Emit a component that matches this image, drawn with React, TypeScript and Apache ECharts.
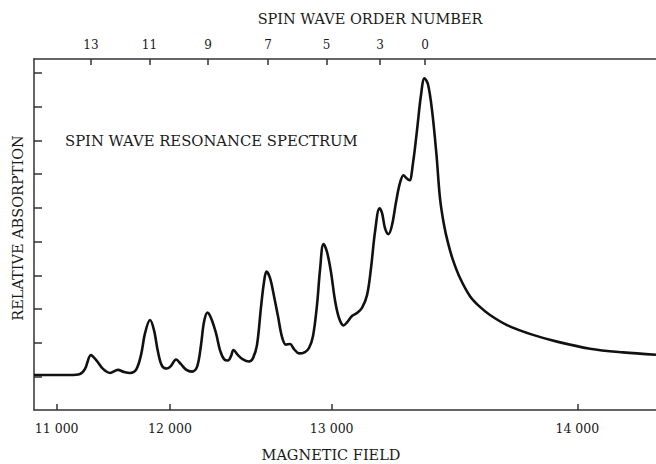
import React, { useEffect, useRef } from "react";
import * as echarts from "echarts";

// Position along the (non-uniform) field scale, in % of the plot width
const scalePos = [
  0, 2.57, 5.79, 7.4, 8.2, 9.16, 10.13, 11.09, 12.22, 13.5, 14.47, 15.43, 16.4, 17.2, 17.85, 18.65,
  19.29, 19.94, 20.58, 21.38, 22.03, 22.83, 23.63, 24.44, 25.4, 26.21, 26.85, 27.33, 27.89, 28.46,
  29.26, 29.9, 30.55, 31.19, 31.67, 32.07, 32.8, 33.6, 34.57, 35.21, 35.85, 36.5, 36.98, 37.38,
  37.94, 38.59, 39.23, 39.87, 40.51, 41.16, 41.8, 42.6, 43.57, 44.21, 44.86, 45.5, 45.98, 46.54,
  47.11, 47.75, 48.39, 49.04, 49.76, 50.32, 51.13, 51.93, 52.73, 53.54, 54.18, 54.82, 55.55, 55.95,
  56.43, 56.99, 57.56, 58.2, 58.84, 59.41, 59.89, 60.37, 60.93, 61.58, 62.22, 62.78, 63.34, 63.99,
  64.71, 65.27, 65.92, 66.56, 67.36, 68.49, 70.1, 71.7, 73.31, 76.05, 80.23, 84.08, 89.39, 94.69, 100,
];
const absorption = [
  1.04, 1.04, 1.04, 1.07, 1.22, 1.63, 1.45, 1.22, 1.1, 1.19, 1.13, 1.1, 1.19, 1.63, 2.28, 2.67,
  2.37, 1.72, 1.31, 1.23, 1.31, 1.5, 1.36, 1.2, 1.14, 1.28, 1.93, 2.61, 2.89, 2.73,
  2.28, 1.78, 1.51, 1.47, 1.6, 1.78, 1.63, 1.5, 1.44, 1.54, 1.93, 3.06, 3.8, 4.11,
  3.92, 3.38, 2.78, 2.17, 1.94, 1.96, 1.81, 1.68, 1.72, 1.84, 2.2, 3.12, 4.15, 4.93,
  4.69, 4.09, 3.26, 2.73, 2.51, 2.6, 2.79, 2.88, 3.03, 3.41, 4.21, 5.28, 5.99, 5.85,
  5.4, 5.22, 5.49, 6.17, 6.74, 6.97, 6.88, 6.82, 7.33, 8.31, 9.35, 9.85, 9.67, 8.9,
  7.57, 6.29, 5.49, 4.96, 4.45, 3.92, 3.38, 3.06, 2.82, 2.52, 2.23, 2.03, 1.82, 1.71, 1.64,
];

const fieldLabels = ["11 000", "12 000", "13 000", "14 000"];
const fieldTickPos = [3.65, 21.86, 47.86, 87.35];
const orderLabels = ["13", "11", "9", "7", "5", "3", "0"];
const orderTickPos = [9.16, 18.57, 27.97, 37.62, 47.03, 55.63, 62.86];
const absorptionTicks = [1, 2, 3, 4, 5, 6, 7, 8, 9, 10];

const SERIF = "DejaVu Serif";
const INK = "#1a1a1a";

function labelFor(values: number[], labels: string[]) {
  return (v: number) => {
    const i = values.findIndex((p) => Math.abs(p - v) < 1e-6);
    return i >= 0 ? labels[i] : "";
  };
}

export default function App() {
  const ref = useRef<HTMLDivElement>(null);
  useEffect(() => {
    if (!ref.current) return;
    const chart = echarts.init(ref.current, null, { renderer: "svg" });
    const axisLine = { show: true, lineStyle: { color: "#333", width: 1.5 } };
    chart.setOption({
      animation: false,
      backgroundColor: "#fff",
      grid: { left: 34, right: 0, top: 59, bottom: 54 },
      xAxis: [
        {
          type: "value",
          position: "bottom",
          min: 0,
          max: 100,
          axisLine,
          splitLine: { show: false },
          axisTick: {
            show: true,
            inside: true,
            length: 6,
            customValues: fieldTickPos,
            lineStyle: { color: "#333", width: 1.5 },
          },
          axisLabel: {
            customValues: fieldTickPos,
            formatter: labelFor(fieldTickPos, fieldLabels),
            margin: 12,
            fontFamily: SERIF,
            fontSize: 12.5,
            color: INK,
          },
        },
        {
          type: "value",
          position: "top",
          min: 0,
          max: 100,
          axisLine,
          splitLine: { show: false },
          axisTick: {
            show: true,
            inside: true,
            length: 6,
            customValues: orderTickPos,
            lineStyle: { color: "#333", width: 1.5 },
          },
          axisLabel: {
            customValues: orderTickPos,
            formatter: labelFor(orderTickPos, orderLabels),
            margin: 8,
            fontFamily: SERIF,
            fontSize: 12,
            color: INK,
          },
        },
      ],
      yAxis: {
        type: "value",
        min: 0,
        max: 10.42,
        axisLine,
        splitLine: { show: false },
        axisTick: {
          show: true,
          inside: true,
          length: 8,
          customValues: absorptionTicks,
          lineStyle: { color: "#333", width: 1.5 },
        },
        axisLabel: { show: false },
      },
      series: [
        {
          type: "line",
          xAxisIndex: 0,
          data: scalePos.map((x, i) => [x, absorption[i]]),
          smooth: 0.35,
          symbol: "none",
          lineStyle: { color: "#111", width: 2.6 },
        },
      ],
      graphic: [
        {
          type: "text",
          x: 370,
          y: 19,
          style: {
            text: "SPIN WAVE ORDER NUMBER",
            font: `14.5px "${SERIF}"`,
            fill: INK,
            align: "center",
            verticalAlign: "middle",
          },
        },
        {
          type: "text",
          x: 331,
          y: 455,
          style: {
            text: "MAGNETIC FIELD",
            font: `14.5px "${SERIF}"`,
            fill: INK,
            align: "center",
            verticalAlign: "middle",
          },
        },
        {
          type: "text",
          x: 18,
          y: 228,
          rotation: Math.PI / 2,
          style: {
            text: "RELATIVE ABSORPTION",
            font: `14.5px "${SERIF}"`,
            fill: INK,
            align: "center",
            verticalAlign: "middle",
          },
        },
        {
          type: "text",
          x: 65,
          y: 140,
          style: {
            text: "SPIN WAVE RESONANCE SPECTRUM",
            font: `14.8px "${SERIF}"`,
            fill: INK,
            align: "left",
            verticalAlign: "middle",
          },
        },
      ],
    });
    return () => chart.dispose();
  }, []);
  return (
    <div
      ref={ref}
      style={{ position: "fixed", left: 0, top: 0, width: 656, height: 464 }}
    />
  );
}
